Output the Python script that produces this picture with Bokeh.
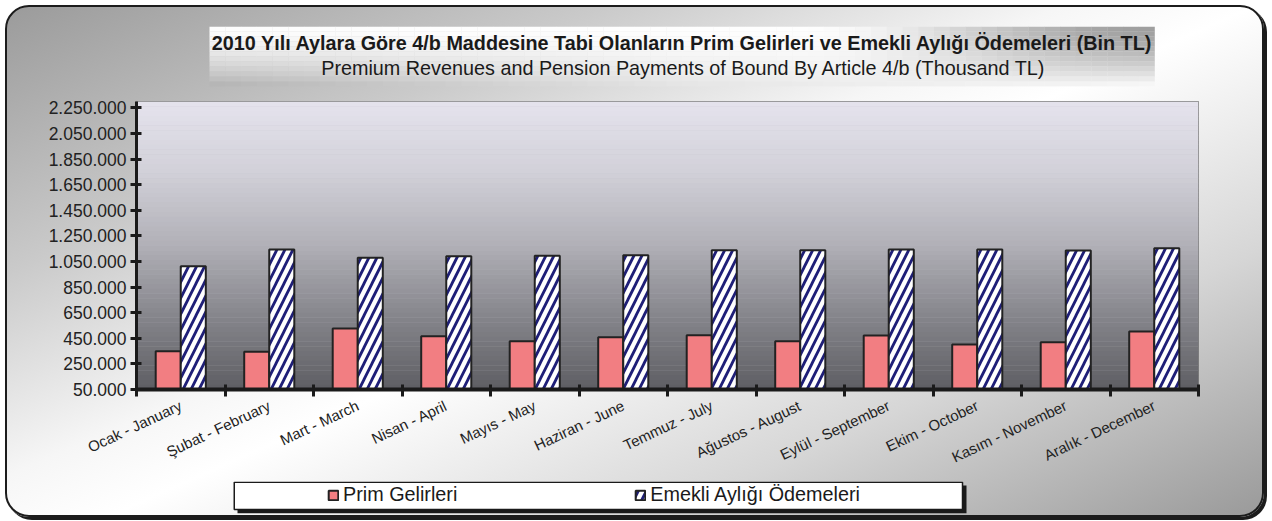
import numpy as np
from bokeh.plotting import figure
from bokeh.layouts import column
from bokeh.models import (Range1d, FixedTicker, CustomJSTickFormatter, BoxAnnotation,
                          Label, Legend, LegendItem, ColumnDataSource)
from bokeh.transform import dodge
from bokeh.embed import file_html
from bokeh.resources import INLINE

# ---------------- data ----------------
months = ["Ocak - January", "Şubat - February", "Mart - March", "Nisan - April",
          "Mayıs - May", "Haziran - June", "Temmuz - July", "Ağustos - August",
          "Eylül - September", "Ekim - October", "Kasım - November", "Aralık - December"]
prim = [349000, 344000, 526000, 466000, 427000, 459000,
        474000, 427000, 472000, 402000, 420000, 503000]
emekli = [1013000, 1144000, 1079000, 1091000, 1094000, 1099000,
          1138000, 1138000, 1144000, 1144000, 1136000, 1154000]
y_ticks = [50000, 250000, 450000, 650000, 850000, 1050000, 1250000,
           1450000, 1650000, 1850000, 2050000, 2250000]
series_names = ["Prim Gelirleri", "Emekli Aylığı Ödemeleri"]
title_tr = "2010 Yılı Aylara Göre 4/b Maddesine Tabi Olanların Prim Gelirleri ve Emekli Aylığı Ödemeleri (Bin TL)"
title_en = "Premium Revenues and Pension Payments of Bound By Article 4/b (Thousand TL)"

Y_MIN, Y_MAX = 50000, 2300000
FONT = "Liberation Sans"
PINK = "#f27e82"
NAVY = "#1f1f78"
INK = "#1a1a1a"

W = 1255
B_LEFT, B_RIGHT = 129, 64          # identical side borders for all stacked figures
FW = W - B_LEFT - B_RIGHT          # frame width in px
T_H = 84                           # title strip height
M_TOP, FR_H, M_BOT = 10, 288, 92   # main figure
M_H = M_TOP + FR_H + M_BOT
LG_H = 32                          # legend box (incl. shadow)
L_H = LG_H + 2


def hexc(rgb):
    return "#%02x%02x%02x" % tuple(int(round(c)) for c in rgb)


def interp(stops, t):
    for (t0, c0), (t1, c1) in zip(stops[:-1], stops[1:]):
        if t0 <= t <= t1:
            f = (t - t0) / (t1 - t0) if t1 > t0 else 0
            return [a + (b - a) * f for a, b in zip(c0, c1)]
    return stops[-1][1]


def base_fig(height, **kw):
    f = figure(width=W, height=height, output_backend="svg", toolbar_location=None,
               min_border_left=B_LEFT, min_border_right=B_RIGHT, **kw)
    f.border_fill_alpha = 0
    return f


def plain(f):
    f.axis.visible = False
    f.grid.visible = False
    f.outline_line_color = None
    f.background_fill_alpha = 0


# ---------------- title strip (pixel-like ranges) ----------------
pt = base_fig(T_H, x_range=Range1d(0, FW), y_range=Range1d(0, 60),
              min_border_top=19, min_border_bottom=T_H - 19 - 60)
plain(pt)
tb_l, tb_r = 73, 1018
cols, rows = 60, 12
ql, qr, qb, qt, qc = [], [], [], [], []
for ci in range(cols):
    u = (ci + 0.5) / cols
    w = min(max((u - 0.62) / 0.38, 0), 1)
    w = w * w * (3 - 2 * w)
    top_c = 254 - 96 * w
    bot_c = 176 + 52 * min(u / 0.5, 1) + 24 * max(u - 0.5, 0) * 2
    for ri in range(rows):
        v = (ri + 0.5) / rows
        c = top_c + (bot_c - top_c) * v ** 1.5
        ql.append(tb_l + (tb_r - tb_l) * ci / cols)
        qr.append(tb_l + (tb_r - tb_l) * (ci + 1) / cols + 0.3)
        qt.append(60 - 60 * ri / rows)
        qb.append(60 - 60 * (ri + 1) / rows - 0.3)
        qc.append(hexc((c, c, c)))
pt.quad(left=ql, right=qr, top=qt, bottom=qb, fill_color=qc, line_color=None)
pt.add_layout(Label(x=546, y=44, text=title_tr, text_align="center", text_baseline="middle",
                    text_font=FONT, text_font_style="bold", text_font_size="19.8px",
                    text_color=INK))
pt.add_layout(Label(x=547, y=19, text=title_en, text_align="center", text_baseline="middle",
                    text_font=FONT, text_font_size="19.8px", text_color=INK))

# ---------------- main chart ----------------
p = base_fig(M_H, x_range=Range1d(0, len(months)), y_range=Range1d(Y_MIN, Y_MAX),
             min_border_top=M_TOP, min_border_bottom=M_BOT)
p.background_fill_color = "#c0bfc6"
p.outline_line_color = "#808080"
p.outline_line_width = 1
p.grid.visible = False

bg_stops = [(0.0, (229, 227, 237)), (0.24, (210, 209, 217)), (0.49, (178, 177, 184)),
            (0.76, (131, 131, 137)), (1.0, (94, 94, 99))]
N = 60
for i in range(N):
    t = (i + 0.5) / N
    top = Y_MAX - (Y_MAX - Y_MIN) * i / N
    bot = Y_MAX - (Y_MAX - Y_MIN) * (i + 1.05) / N
    p.add_layout(BoxAnnotation(top=top, bottom=max(bot, Y_MIN), fill_color=hexc(interp(bg_stops, t)),
                               fill_alpha=1, line_alpha=0, level="underlay"))

centers = [i + 0.5 for i in range(len(months))]
src = ColumnDataSource(dict(x=centers, prim=prim, emekli=emekli))
bw = 0.283
bar_prim = dict(fill_color=PINK, line_color="#222222", line_width=2)
bar_emek = dict(fill_color="white", line_color="#222222", line_width=2,
                hatch_pattern="/", hatch_color=NAVY, hatch_scale=16, hatch_weight=2.8)
p.vbar(x=dodge("x", -bw / 2, range=p.x_range), top="prim", bottom=Y_MIN, width=bw,
       source=src, **bar_prim)
p.vbar(x=dodge("x", bw / 2, range=p.x_range), top="emekli", bottom=Y_MIN, width=bw,
       source=src, **bar_emek)

ya = p.yaxis[0]
ya.ticker = FixedTicker(ticks=y_ticks)
ya.formatter = CustomJSTickFormatter(
    code="return Math.round(tick).toString().replace(/\\B(?=(\\d{3})+(?!\\d))/g, '.');")
ya.axis_line_width = 3
ya.axis_line_color = INK
ya.major_tick_in = 5
ya.major_tick_out = 6
ya.major_tick_line_width = 3
ya.major_tick_line_color = INK
ya.minor_tick_line_color = None
ya.major_label_text_font = FONT
ya.major_label_text_font_size = "17.5px"
ya.major_label_text_color = "#222222"
ya.major_label_standoff = 4

xa = p.xaxis[0]
xa.ticker = FixedTicker(ticks=centers, minor_ticks=list(range(len(months) + 1)))
xa.formatter = CustomJSTickFormatter(args=dict(labels=months),
                                     code="return labels[Math.floor(tick)] || '';")
xa.axis_line_width = 4
xa.axis_line_color = INK
xa.major_tick_line_color = None
xa.major_tick_in = 0
xa.major_tick_out = 0
xa.minor_tick_in = 5
xa.minor_tick_out = 7
xa.minor_tick_line_width = 3
xa.minor_tick_line_color = INK
xa.major_label_orientation = 0.44
xa.major_label_standoff = 8
xa.major_label_text_font = FONT
xa.major_label_text_font_size = "15px"
xa.major_label_text_color = "#222222"

# ---------------- legend strip ----------------
lg_l, lg_r = 97, 830                 # box incl. 4px shadow, px within frame
pl = base_fig(L_H, x_range=Range1d(0, FW), y_range=Range1d(0, LG_H),
              min_border_top=0, min_border_bottom=L_H - LG_H)
plain(pl)
sh = 4
# legend swatch renderers (one tiny row each, hidden underneath the legend box)
d1 = pl.vbar(x=[lg_l + 20], top=[LG_H / 2], bottom=[LG_H / 2 - 1], width=1, **bar_prim)
d2 = pl.vbar(x=[lg_l + 40], top=[LG_H / 2], bottom=[LG_H / 2 - 1], width=1, **bar_emek)
pl.quad(left=[lg_l + sh], right=[lg_r], top=[LG_H - sh], bottom=[0], fill_color=INK, line_color=None)
pl.quad(left=[lg_l + 0.75], right=[lg_r - sh], top=[LG_H - 0.75], bottom=[sh], fill_color="white",
        line_color=INK, line_width=1.5)
legend = Legend(items=[LegendItem(label=series_names[0], renderers=[d1]),
                       LegendItem(label=series_names[1], renderers=[d2])],
                orientation="horizontal", location=(191, 7),
                background_fill_alpha=0, border_line_alpha=0,
                padding=0, margin=0, spacing=177, label_standoff=4,
                glyph_width=12, glyph_height=12,
                label_text_font=FONT, label_text_font_size="19.8px", label_text_color=INK)
pl.add_layout(legend)

layout = column(pt, p, pl, spacing=0)
layout.styles = {
    "background": "linear-gradient(156deg, #9b9b9b 0%, #cacaca 25%, #f6f6f6 44%, #ffffff 52%, #d6d6d6 75%, #9a9a9a 100%)",
    "border": "2px solid #1c1c1c",
    "border-radius": "24px",
    "box-shadow": "3px 3px 0 #1c1c1c",
    "margin-left": "5px",
    "margin-top": "5px",
}

open("out.html", "w").write(file_html(layout, INLINE))
